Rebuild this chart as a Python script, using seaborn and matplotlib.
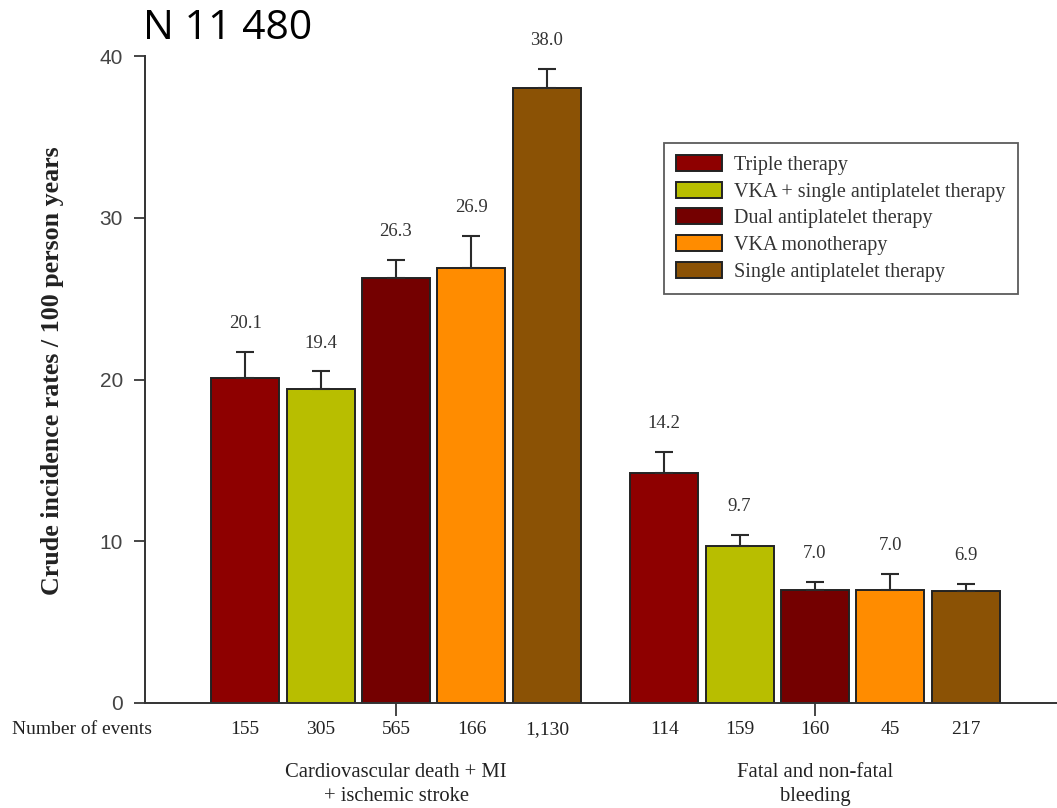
import matplotlib
matplotlib.use("Agg")
import matplotlib.pyplot as plt
import seaborn as sns
import pandas as pd
import numpy as np

outcomes = ["Cardiovascular death + MI\n+ ischemic stroke", "Fatal and non-fatal\nbleeding"]
therapies = ["Triple therapy", "VKA + single antiplatelet therapy", "Dual antiplatelet therapy",
             "VKA monotherapy", "Single antiplatelet therapy"]
colors = ["#8E0000", "#B8BE00", "#740000", "#FF8C00", "#8B5205"]
rates_cv = [20.1, 19.4, 26.3, 26.9, 38.0]
rates_bleed = [14.2, 9.7, 7.0, 7.0, 6.9]
upper_cv = [21.7, 20.5, 27.4, 28.9, 39.2]
upper_bleed = [15.5, 10.4, 7.5, 8.0, 7.35]
events_cv = ["155", "305", "565", "166", "1,130"]
events_bleed = ["114", "159", "160", "45", "217"]

rows = []
for o, rates, ups, evs in [(outcomes[0], rates_cv, upper_cv, events_cv),
                           (outcomes[1], rates_bleed, upper_bleed, events_bleed)]:
    for t, r, u, e in zip(therapies, rates, ups, evs):
        rows.append(dict(outcome=o, therapy=t, rate=r, upper=u, events=e))
df = pd.DataFrame(rows)

sns.set_style("white")
fig = plt.figure(figsize=(10.57, 8.08), dpi=100)
ax = fig.add_axes([145/1057, 1-703/808, 1-145/1057, (703-56)/808])

sns.barplot(data=df, x="outcome", y="rate", hue="therapy", order=outcomes, hue_order=therapies,
            palette=colors, width=0.9, gap=0.1, edgecolor="#222222", linewidth=1.4,
            errorbar=None, saturation=1, ax=ax)

serif = "Liberation Serif"
# error bars and labels from bar patches
bars = [p for p in ax.patches if p.get_height() > 0]
for p in bars:
    xc = p.get_x() + p.get_width() / 2
    h = p.get_height()
    gi = int(round(xc))
    hi = int(np.argmin([abs(xc - (gi + (k - 2) * 0.18)) for k in range(5)]))
    rec = df[(df.outcome == outcomes[gi]) & (df.therapy == therapies[hi])].iloc[0]
    ax.errorbar([xc], [h], yerr=[[0], [rec.upper - h]], fmt="none", ecolor="#2a2a2a",
                elinewidth=1.5, capsize=6.5, capthick=1.5, zorder=3)
    ax.text(xc, rec.upper + 1.75, f"{rec.rate:.1f}", ha="center", va="center",
            fontsize=13.5, family=serif, color="#333333")
    ax.text(xc, -1.93, rec.events, ha="center", va="baseline", fontsize=14, family=serif,
            color="#222222", clip_on=False)

ax.text((12 - 396) / 419, -1.93, "Number of events", ha="left", va="baseline", fontsize=14,
        family=serif, color="#222222", clip_on=False, transform=ax.transData)

ax.set_xlim((145 - 396) / 419, (1057 - 396) / 419)
ax.set_ylim(0, 40)
ax.set_yticks([0, 10, 20, 30, 40])
ax.tick_params(axis="y", labelsize=15, labelcolor="#444444", length=8, width=1.2,
               direction="out", left=True, pad=8)
for lbl in ax.get_yticklabels():
    lbl.set_family("Liberation Sans")
ax.tick_params(axis="x", length=9, width=1.2, direction="out", bottom=True,
               labelsize=14.9, pad=34)
for lbl in ax.get_xticklabels():
    lbl.set_family(serif)
    lbl.set_color("#222222")
    lbl.set_linespacing(1.36)
ax.set_xlabel("")
ax.set_ylabel("Crude incidence rates / 100 person years", family=serif, fontsize=18.7,
              fontweight="bold", color="#222222")
ax.yaxis.set_label_coords((64 - 145) / 912, (703 - 371) / 647)
for s in ["top", "right"]:
    ax.spines[s].set_visible(False)
for s in ["left", "bottom"]:
    ax.spines[s].set_color("#333333")
    ax.spines[s].set_linewidth(1.4)

leg = ax.legend(loc="upper left", bbox_to_anchor=((664 - 145) / 912, (703 - 143) / 647),
                frameon=True, fancybox=False, edgecolor="#333333",
                prop={"family": serif, "size": 14.5}, handlelength=2.3, handleheight=0.85,
                borderpad=0.6, labelspacing=0.33, handletextpad=0.6, borderaxespad=0)
leg.get_frame().set_linewidth(1.3)
for h in leg.legend_handles:
    h.set_edgecolor("#222222")
    h.set_linewidth(1.4)
for t in leg.get_texts():
    t.set_color("#333333")

fig.text(143/1057, 1 - 29/808, "N 11 480", fontsize=29.5, family="Open Sans",
         ha="left", va="center", color="black")

fig.savefig("out.png", dpi=100)
